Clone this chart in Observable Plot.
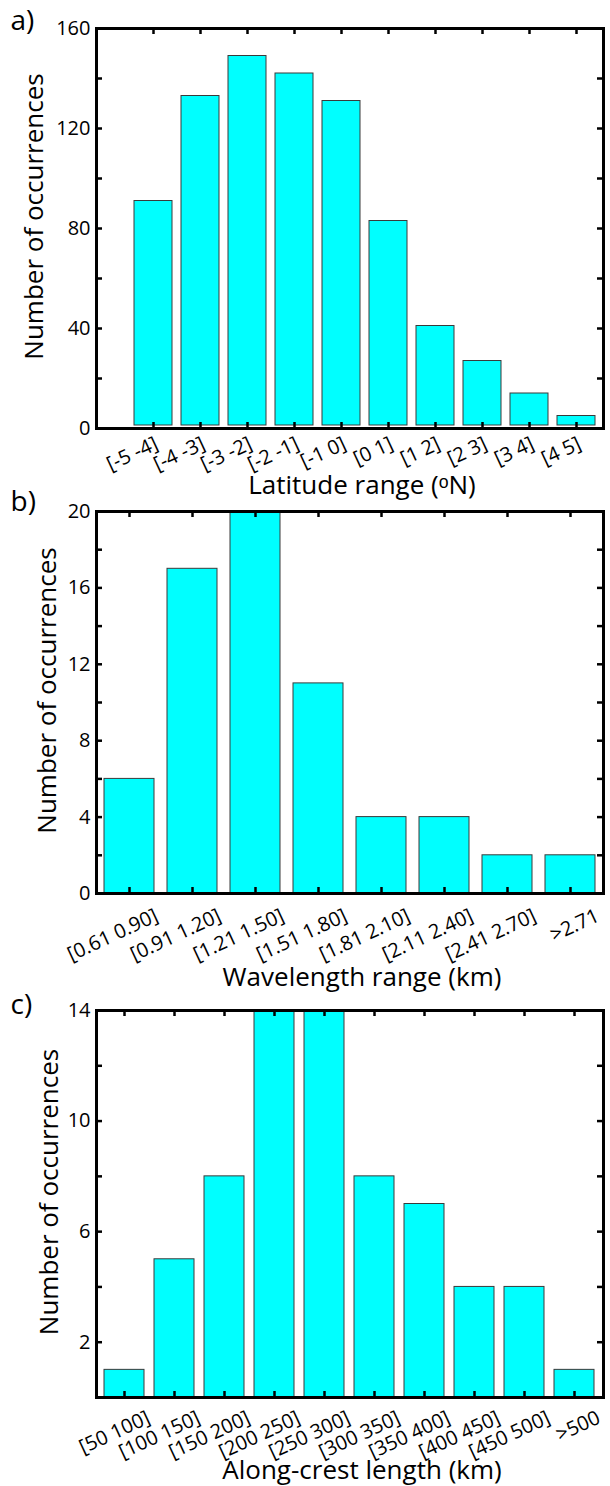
<!DOCTYPE html>
<html><head><meta charset="utf-8">
<script src="https://cdn.jsdelivr.net/npm/d3@7"></script>
<script src="https://cdn.jsdelivr.net/npm/@observablehq/plot@0.6"></script>
<style>
html,body{margin:0;padding:0;background:#fff;}
#wrap{position:relative;width:610px;height:1486px;font-family:"Open Sans",sans-serif;}
#wrap svg{position:absolute;left:0;overflow:visible;}
</style></head><body><div id="wrap"></div>
<script>
// Panel a: latitude
const latLabels = ["[-5 -4]","[-4 -3]","[-3 -2]","[-2 -1]","[-1 0]","[0 1]","[1 2]","[2 3]","[3 4]","[4 5]"];
const latCounts = [91,133,149,142,131,83,41,27,14,5];
const latTicks = [0,20,40,60,80,100,120,140,160];
const latTickLabels = [0,40,80,120,160];
// Panel b: wavelength
const wlLabels = ["[0.61 0.90]","[0.91 1.20]","[1.21 1.50]","[1.51 1.80]","[1.81 2.10]","[2.11 2.40]","[2.41 2.70]",">2.71"];
const wlCounts = [6,17,20,11,4,4,2,2];
const wlTicks = [0,2,4,6,8,10,12,14,16,18,20];
const wlTickLabels = [0,4,8,12,16,20];
// Panel c: along-crest length
const lenLabels = ["[50 100]","[100 150]","[150 200]","[200 250]","[250 300]","[300 350]","[350 400]","[400 450]","[450 500]",">500"];
const lenCounts = [1,5,8,14,14,8,7,4,4,1];
const lenTicks = [0,2,4,6,8,10,12,14];
const lenTickLabels = [2,6,10,14];

const W = 610, ML = 96, MR = 7;
const FONT = "'Open Sans', sans-serif";

function panel(o) {
  const fw = W - ML - MR, fh = o.height - o.mt - o.mb;
  const data = o.labels.map((l, i) => ({label: l, count: o.counts[i]}));
  const tk = {stroke: "#000", strokeWidth: 2.5};
  const svg = Plot.plot({
    width: W, height: o.height,
    marginLeft: ML, marginRight: MR, marginTop: o.mt, marginBottom: o.mb,
    style: {fontFamily: FONT, background: "transparent", overflow: "visible"},
    x: {type: "band", domain: o.labels, range: o.xRange, paddingInner: 0.2, paddingOuter: 0.1, axis: null},
    y: {domain: [0, o.yMax], axis: null},
    marks: [
      Plot.barY(data, {x: "label", y: "count", fill: "#00ffff", stroke: "#3a3a3a", strokeWidth: 1, insetBottom: o.insetBottom || 0}),
      Plot.tickY(o.ticks, {y: d => d, insetRight: fw - 6, ...tk}),
      Plot.tickY(o.ticks, {y: d => d, insetLeft: fw - 6, ...tk}),
      Plot.tickX(o.labels, {x: d => d, insetTop: fh - 6, ...tk}),
      Plot.tickX(o.labels, {x: d => d, insetBottom: fh - 6, ...tk}),
      Plot.frame({stroke: "#000", strokeWidth: 3}),
      Plot.axisY(o.tickLabels, {tickSize: 0, tickPadding: 6, fontSize: 20, label: null, fill: "#000"}),
      Plot.text(o.labels, {x: d => d, frameAnchor: "bottom", rotate: -25, textAnchor: "end", lineAnchor: "top",
        dx: o.tickDx, dy: o.tickDy, fontSize: 20, fill: "#000"}),
      Plot.text([o.xTitle], {frameAnchor: "bottom", lineAnchor: "middle", textAnchor: "middle",
        dx: o.xTitleDx, dy: o.xTitleDy, fontSize: 26, fill: "#000"}),
      Plot.text(["Number of occurrences"], {frameAnchor: "left", rotate: -90, lineAnchor: "middle", textAnchor: "middle",
        dx: o.yTitleX - ML, dy: -12, fontSize: 26, fill: "#000"}),
      Plot.text([o.letter], {frameAnchor: "top-left", textAnchor: "start", lineAnchor: "middle",
        dx: 10 - ML, dy: o.letterDy, fontSize: 28, fill: "#000"})
    ]
  });
  svg.style.top = o.top + "px";
  document.getElementById("wrap").appendChild(svg);
}

panel({top: 0, height: 498, mt: 28, mb: 70, labels: latLabels, counts: latCounts, yMax: 160,
  ticks: latTicks, tickLabels: latTickLabels, xRange: [125, 603.5], insetBottom: 3,
  tickDx: 0, tickDy: 7, xTitle: "Latitude range (\u1d52N)", xTitleDx: 12, xTitleDy: 57,
  yTitleX: 34, letter: "a)", letterDy: -7});

panel({top: 498, height: 492, mt: 13, mb: 97, labels: wlLabels, counts: wlCounts, yMax: 20,
  ticks: wlTicks, tickLabels: wlTickLabels,
  tickDx: 24, tickDy: 14, xTitle: "Wavelength range (km)", xTitleDx: 12, xTitleDy: 84,
  yTitleX: 47, letter: "b)", letterDy: -9});

panel({top: 990, height: 496, mt: 20, mb: 89, labels: lenLabels, counts: lenCounts, yMax: 14,
  ticks: lenTicks, tickLabels: lenTickLabels,
  tickDx: 21, tickDy: 12, xTitle: "Along-crest length (km)", xTitleDx: 12, xTitleDy: 73,
  yTitleX: 49, letter: "c)", letterDy: -5});
</script></body></html>
